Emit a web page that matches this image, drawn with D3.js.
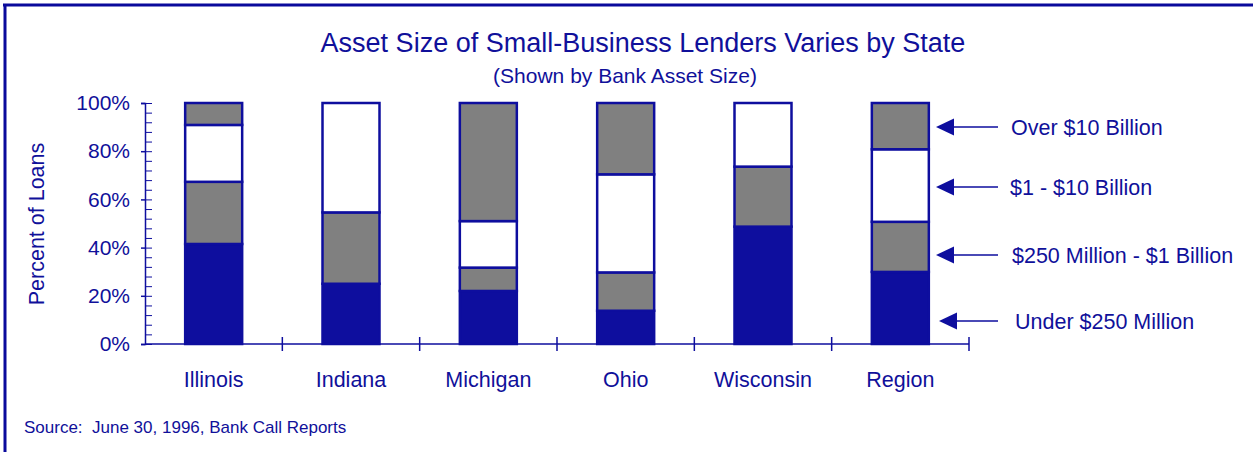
<!DOCTYPE html>
<html lang="en">
<head>
  <meta charset="UTF-8">
  <title>Asset Size of Small-Business Lenders</title>
  <style>
    body { margin: 0; background: #fff; }
    svg { display: block; font-family: "Liberation Sans", Arial, sans-serif; }
  </style>
</head>
<body>
  <svg></svg>
  <script src="https://cdn.jsdelivr.net/npm/d3@7"></script>
  <script>
    // data (percent of loans)
    var states = ["Illinois", "Indiana", "Michigan", "Ohio", "Wisconsin", "Region"]
    var sizeKeys = ["Under $250 Million", "$250 Million - $1 Billion", "$1 - $10 Billion", "Over $10 Billion"]
    var under250M = [41.5, 25.0, 22.0, 13.8, 48.7, 29.9]
    var m250to1B = [25.8, 29.6, 9.7, 15.9, 24.9, 20.8]
    var b1to10B = [23.6, 45.4, 19.3, 40.7, 26.4, 30.1]
    var over10B = [9.1, 0, 49.0, 29.6, 0, 19.2]
    var yTicks = [0, 20, 40, 60, 80, 100]

    var width = 1253
    var height = 452
    var blue = "#0e0e9e"
    var textBlue = "#10109a"
    var fills = [blue, "#808080", "#ffffff", "#808080"]

    var rows = states.map(function (s, i) {
      return { state: s, "Under $250 Million": under250M[i], "$250 Million - $1 Billion": m250to1B[i],
        "$1 - $10 Billion": b1to10B[i], "Over $10 Billion": over10B[i] }
    })
    var series = d3.stack().keys(sizeKeys)(rows)

    var x = d3.scaleBand()
      .domain(states)
      .range([145, 969])
      .paddingInner(0.585)
      .paddingOuter(0.2925)
    var y = d3.scaleLinear().domain([0, 100]).range([344, 103])

    var svg = d3.select("svg")
      .attr("width", width)
      .attr("height", height)

    // frame
    svg.append("line").attr("x1", 3).attr("x2", width).attr("y1", 5).attr("y2", 5)
      .attr("stroke", "#0a0a9c").attr("stroke-width", 3)
    svg.append("line").attr("x1", 5).attr("x2", 5).attr("y1", 4).attr("y2", height)
      .attr("stroke", "#0a0a9c").attr("stroke-width", 3)

    // titles
    svg.append("text").attr("x", 643).attr("y", 52).attr("text-anchor", "middle")
      .attr("font-size", 27).attr("fill", textBlue)
      .text("Asset Size of Small-Business Lenders Varies by State")
    svg.append("text").attr("x", 625).attr("y", 83).attr("text-anchor", "middle")
      .attr("font-size", 21).attr("fill", textBlue)
      .text("(Shown by Bank Asset Size)")

    // bars
    svg.append("g").selectAll("g")
      .data(series)
      .join("g")
      .attr("fill", function (d, i) { return fills[i] })
      .selectAll("rect")
      .data(function (d) { return d })
      .join("rect")
      .attr("x", function (d) { return x(d.data.state) })
      .attr("width", x.bandwidth())
      .attr("y", function (d) { return y(d[1]) })
      .attr("height", function (d) { return y(d[0]) - y(d[1]) })
      .attr("stroke", blue)
      .attr("stroke-width", 2.5)

    // y axis: labels + major ticks to the left, minor ticks to the right
    var yAxis = svg.append("g")
      .attr("transform", "translate(145,0)")
      .call(d3.axisLeft(y).tickValues(yTicks).tickSize(4).tickPadding(11)
        .tickFormat(function (d) { return d + "%" }))
    yAxis.select(".domain").attr("stroke", blue).attr("stroke-width", 1.5)
    yAxis.selectAll(".tick line").attr("stroke", blue).attr("stroke-width", 1.5)
    yAxis.selectAll("text").attr("font-size", 21).attr("fill", textBlue)
      .attr("font-family", "Liberation Sans, Arial, sans-serif")

    var yMinor = svg.append("g")
      .attr("transform", "translate(145,0)")
      .call(d3.axisRight(y).tickValues(d3.range(0, 101, 4)).tickSize(7).tickFormat(""))
    yMinor.select(".domain").remove()
    yMinor.selectAll(".tick line").attr("stroke", blue).attr("stroke-width", 1)

    svg.append("text")
      .attr("transform", "translate(44,224) rotate(-90)")
      .attr("text-anchor", "middle")
      .attr("font-size", 21.5).attr("fill", textBlue)
      .text("Percent of Loans")

    // x axis with ticks between categories
    var step = x.step()
    var bounds = states.map(function (s) { return x(s) + x.bandwidth() / 2 + step / 2 })
    var xAxis = svg.append("g")
    xAxis.append("line").attr("x1", 145).attr("x2", 969).attr("y1", y(0)).attr("y2", y(0))
      .attr("stroke", blue).attr("stroke-width", 1.5)
    xAxis.selectAll(".xt")
      .data(bounds)
      .join("line")
      .attr("class", "xt")
      .attr("x1", function (d) { return d }).attr("x2", function (d) { return d })
      .attr("y1", y(0) - 7).attr("y2", y(0) + 7)
      .attr("stroke", blue).attr("stroke-width", 1.5)
    xAxis.selectAll(".xl")
      .data(states)
      .join("text")
      .attr("class", "xl")
      .attr("x", function (d) { return x(d) + x.bandwidth() / 2 })
      .attr("y", 387)
      .attr("text-anchor", "middle")
      .attr("font-size", 21.5).attr("fill", textBlue)
      .text(function (d) { return d })

    // legend with arrows
    var legendY = [321, 255, 187, 127]
    var legend = svg.append("g").selectAll("g")
      .data(sizeKeys)
      .join("g")
      .attr("transform", function (d, i) { return "translate(0," + legendY[i] + ")" })
    legend.append("line").attr("x1", 950).attr("x2", 998).attr("y1", 0).attr("y2", 0)
      .attr("stroke", blue).attr("stroke-width", 1.5)
    legend.append("path")
      .attr("d", function (d, i) { var t = i === 0 ? 939 : 936; return "M" + t + ",0L" + (t + 18) + ",-8.5L" + (t + 18) + ",8.5Z" })
      .attr("fill", blue)
    legend.append("text")
      .attr("x", function (d, i) { return [1015, 1012, 1010, 1011][i] })
      .attr("y", 8)
      .attr("font-size", 21.5).attr("fill", textBlue)
      .text(function (d) { return d })

    // source
    svg.append("text").attr("x", 24).attr("y", 433)
      .attr("font-size", 17).attr("fill", textBlue)
      .attr("xml:space", "preserve")
      .text("Source:  June 30, 1996, Bank Call Reports")
  </script>
</body>
</html>
